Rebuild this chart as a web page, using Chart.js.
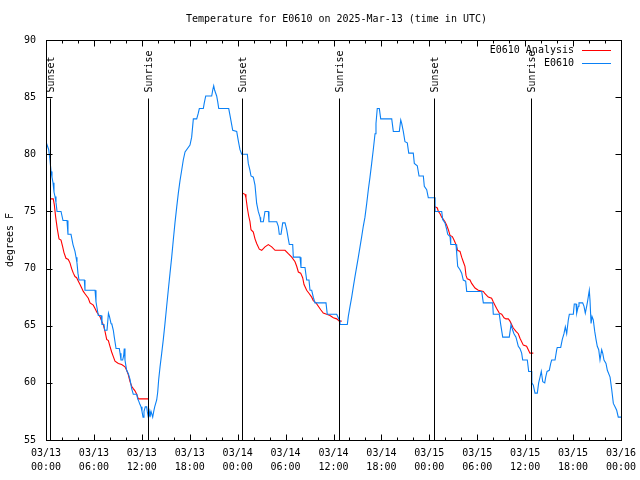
<!DOCTYPE html>
<html><head><meta charset="utf-8">
<script src="https://cdn.jsdelivr.net/npm/chart.js@4"></script>
<style>html,body{margin:0;padding:0;background:#fff}canvas{display:block}</style>
</head><body>
<canvas id="c" width="640" height="480"></canvas>
<script>
const titleText = 'Temperature for E0610 on 2025-Mar-13 (time in UTC)';
const yAxisTitle = 'degrees F';
const seriesNames = ['E0610 Analysis', 'E0610'];
const seriesColors = ['#ff0000', '#0a80f5'];
const xTickDates = ['03/13','03/13','03/13','03/13','03/14','03/14','03/14','03/14','03/15','03/15','03/15','03/15','03/16'];
const xTickTimes = ['00:00','06:00','12:00','18:00','00:00','06:00','12:00','18:00','00:00','06:00','12:00','18:00','00:00'];
const eventHours = [0.5, 12.81, 24.5, 36.73, 48.62, 60.77];
const eventLabels = ['Sunset','Sunrise','Sunset','Sunrise','Sunset','Sunrise'];

// Analysis (hours since 03/13 00:00 UTC), null temp breaks the line
const analysisHours = [
0.59,0.91,1.04,1.21,1.41,1.63,1.88,2.09,2.25,2.5,2.79,3.0,3.21,3.42,3.63,3.84,4.05,4.26,4.47,4.67,4.88,5.3,5.51,5.92,6.14,6.35,6.55,6.76,6.97,7.17,7.39,7.6,7.81,8.01,8.22,8.43,8.64,9.06,9.48,9.89,10.1,10.31,10.52,10.73,10.93,11.14,11.36,11.56,11.77,12.81,
18,
24.63,24.92,25.04,25.21,25.38,25.54,25.67,25.96,26.17,26.38,26.71,27.01,27.42,27.84,28.26,28.68,29.93,30.34,30.77,31.18,31.39,31.6,31.89,32.14,32.31,32.64,32.97,33.27,33.47,33.81,34.1,34.4,34.72,35.14,35.56,35.98,36.4,36.73,37.03,
42,
48.71,49.0,49.13,49.34,49.55,49.75,49.96,50.17,50.38,50.59,50.88,51.09,51.34,51.55,51.84,52.05,52.25,52.46,52.59,52.75,53.09,53.3,53.72,54.13,54.76,54.97,55.38,55.8,56.0,56.22,56.43,56.76,57.06,57.35,57.6,57.89,58.1,58.51,58.85,59.14,59.35,59.77,60.18,60.39,60.6,61.02
];
const analysisTemps = [
76.1,76.1,75.6,74.5,73.5,72.6,72.5,71.9,71.4,70.9,70.8,70.5,70.0,69.6,69.3,69.2,68.9,68.6,68.3,68.0,67.8,67.4,67.0,66.8,66.5,66.2,66.0,65.8,65.4,65.1,64.5,63.8,63.7,63.2,62.7,62.3,61.9,61.7,61.6,61.4,61.1,60.7,60.1,59.7,59.5,59.3,59.0,58.6,58.6,58.6,
null,
76.6,76.5,76.2,75.3,74.6,74.1,73.4,73.2,72.6,72.2,71.7,71.6,71.9,72.1,71.9,71.6,71.6,71.3,71.0,70.6,70.2,69.7,69.6,69.2,68.6,68.1,67.8,67.5,67.2,67.0,66.7,66.4,66.1,66.0,65.9,65.7,65.6,65.4,65.4,
null,
75.4,75.3,75.0,74.8,74.5,74.3,74.1,73.8,73.4,72.9,72.8,72.5,72.1,71.6,71.5,71.0,70.6,70.2,69.4,69.1,69.0,68.7,68.3,68.1,68.0,67.8,67.5,67.4,67.1,66.8,66.5,66.1,66.0,65.7,65.6,65.6,65.4,64.8,64.5,64.3,63.9,63.3,63.2,62.9,62.6,62.6
];

// Observations
const obsHours = [
0.05,0.34,0.5,0.63,0.75,0.88,1.0,1.13,1.25,1.38,1.88,2.13,2.63,2.75,3.13,3.38,3.63,3.76,3.88,4.0,4.13,4.8,4.88,6.14,6.26,6.35,6.55,6.89,7.01,7.26,7.35,7.64,7.82,7.95,8.14,8.26,8.43,8.55,8.64,8.77,9.18,9.27,9.39,9.6,9.73,9.8,9.89,9.98,10.1,10.31,10.52,10.73,10.93,11.36,11.48,11.61,11.77,11.9,12.02,12.15,12.27,12.43,12.61,12.68,12.81,12.93,13.02,13.15,13.36,13.49,13.61,13.86,13.99,14.11,14.28,14.49,14.69,14.9,15.11,15.31,15.53,15.74,15.94,16.15,16.37,16.57,16.78,16.99,17.19,17.41,17.53,18.03,18.24,18.45,18.87,19.07,19.2,19.7,19.82,20.0,20.75,20.87,21.0,21.12,21.37,21.5,21.63,22.88,23.04,23.17,23.38,23.88,24.0,24.13,24.29,24.51,25.21,25.33,25.54,25.67,25.96,26.17,26.38,26.58,26.8,26.88,27.21,27.42,27.84,27.92,28.89,29.09,29.21,29.43,29.64,29.93,30.14,30.34,30.47,30.89,30.97,31.81,31.93,32.43,32.64,32.93,33.06,33.27,33.47,33.68,35.06,35.22,36.4,36.73,36.81,37.73,37.85,38.07,38.28,38.48,38.69,38.91,39.11,39.32,39.53,39.73,39.94,40.16,40.36,40.57,40.78,40.98,41.2,41.32,41.48,41.74,41.91,43.29,43.49,44.24,44.42,44.54,44.74,44.95,45.24,45.42,45.99,46.12,46.49,46.71,47.25,47.37,47.67,47.87,48.71,48.72,49.55,49.67,49.96,50.18,50.3,50.59,50.68,51.34,51.43,51.55,51.84,52.05,52.25,52.55,52.68,54.56,54.76,55.93,56.01,56.76,56.94,57.19,58.01,58.23,58.44,58.6,58.85,59.14,59.35,59.56,59.69,60.27,60.44,60.82,60.83,61.02,61.23,61.52,61.69,61.86,62.02,62.2,62.45,62.57,62.74,63.02,63.2,63.32,63.74,63.95,64.02,64.45,64.65,64.86,65.03,65.2,65.4,65.53,66.03,66.15,66.37,66.45,66.65,66.74,67.2,67.37,67.53,67.7,67.83,67.96,68.03,68.12,68.25,68.37,68.53,68.71,68.87,69.03,69.21,69.37,69.58,69.71,69.87,70.12,70.29,70.63,70.84,71.04,71.25,71.46,71.66,72.0
];
const obsTemps = [
81.0,80.4,79.5,78.5,78.0,77.5,76.7,76.3,75.8,75.0,75.0,74.2,74.2,73.0,73.0,72.1,71.5,71.0,70.5,69.6,69.0,69.0,68.1,68.1,67.1,66.7,65.9,65.9,65.1,65.1,64.6,64.6,66.1,65.8,65.2,65.1,64.6,64.0,63.6,63.0,63.0,62.6,62.0,62.0,62.4,63.0,62.0,61.6,61.1,60.8,60.3,59.5,59.0,59.0,58.6,58.4,58.1,57.9,57.5,57.0,57.5,57.9,57.9,57.5,57.0,57.5,57.0,57.5,57.0,57.5,57.9,58.5,59.2,60.3,61.4,62.6,63.8,65.2,66.7,68.1,69.6,71.0,72.5,74.0,75.4,76.6,77.7,78.6,79.5,80.2,80.2,80.8,81.5,83.1,83.1,83.6,84.0,84.0,84.5,85.1,85.1,85.6,86.0,85.6,85.1,84.6,84.0,84.0,83.4,82.9,82.1,82.0,81.5,81.0,80.4,80.0,80.0,79.2,78.6,78.1,78.0,77.3,75.7,75.0,74.5,74.1,74.1,75.0,75.0,74.1,74.1,73.7,73.0,73.0,74.0,74.0,73.4,72.6,72.1,72.1,71.0,71.0,70.1,70.1,69.0,69.0,68.1,68.1,67.5,67.0,67.0,66.0,66.0,65.5,65.1,65.1,65.8,66.7,67.5,68.4,69.3,70.2,71.0,71.9,72.8,73.7,74.5,75.7,76.9,78.0,79.2,80.4,81.8,82.7,84.0,84.0,83.1,83.1,82.0,82.0,83.0,82.7,82.0,81.1,81.0,80.1,80.1,79.2,79.0,78.1,78.1,77.2,76.9,76.2,76.2,75.0,75.0,74.3,74.0,73.4,73.0,72.8,72.1,72.1,71.3,70.2,69.9,69.6,69.0,68.9,68.0,68.0,67.0,67.0,66.0,66.0,65.1,64.0,64.0,65.1,64.6,64.3,64.0,63.2,63.0,62.6,62.0,62.0,61.0,61.0,60.0,59.8,59.1,59.1,60.0,60.5,61.0,60.1,60.0,60.5,61.0,61.1,61.7,62.0,62.0,62.9,63.1,63.1,63.8,64.3,64.9,64.3,65.5,66.0,66.0,66.9,66.9,66.1,66.7,67.0,67.0,66.7,66.1,66.7,67.2,67.8,68.1,67.2,65.2,65.8,65.5,64.5,63.8,63.2,62.9,62.0,62.9,62.6,62.0,61.7,61.1,60.5,59.4,58.2,57.9,57.6,57.0,57.0
];

const FONT = '"DejaVu Sans Mono", "Liberation Mono", monospace';
const toPts = (xs, ys) => xs.map((h, i) => ({ x: h, y: ys[i] }));

const framePlugin = {
  id: 'frame',
  afterDatasetsDraw(chart) {
    const { ctx, chartArea: a, scales: { x, y } } = chart;
    const L = Math.round(a.left) + 0.5, R = Math.round(a.right) + 0.5;
    const T = Math.round(a.top) + 0.5, B = Math.round(a.bottom) + 0.5;
    ctx.save();
    ctx.strokeStyle = '#000';
    ctx.fillStyle = '#000';
    ctx.lineWidth = 1;
    ctx.font = '10px ' + FONT;
    // title, centred over the plot area
    ctx.textAlign = 'center'; ctx.textBaseline = 'middle';
    ctx.fillText(titleText, (a.left + a.right) / 2 + 3, 19);
    // event lines and labels
    eventHours.forEach((h, i) => {
      const px = Math.round(x.getPixelForValue(h)) + 0.5;
      ctx.beginPath(); ctx.moveTo(px, T + 58); ctx.lineTo(px, B); ctx.stroke();
      ctx.save();
      ctx.translate(px + 0.5, T + 52);
      ctx.rotate(-Math.PI / 2);
      ctx.textAlign = 'left'; ctx.textBaseline = 'middle';
      ctx.fillText(eventLabels[i], 0, 0);
      ctx.restore();
    });
    // border
    ctx.strokeRect(L, T, R - L, B - T);
    // x ticks (major every 6h, minor every 2h), inward, top and bottom
    ctx.beginPath();
    for (let h = 0; h <= 72; h += 2) {
      const px = Math.round(x.getPixelForValue(h)) + 0.5;
      const len = (h % 6 === 0) ? 6 : 3;
      ctx.moveTo(px, B); ctx.lineTo(px, B - len);
      ctx.moveTo(px, T); ctx.lineTo(px, T + len);
    }
    // y ticks, inward, left and right
    for (let v = 55; v <= 90; v += 5) {
      const py = Math.round(y.getPixelForValue(v)) + 0.5;
      ctx.moveTo(L, py); ctx.lineTo(L + 6, py);
      ctx.moveTo(R, py); ctx.lineTo(R - 6, py);
    }
    ctx.stroke();
    // legend
    ctx.textAlign = 'right'; ctx.textBaseline = 'middle';
    seriesNames.forEach((n, i) => {
      const ly = T + 9.5 + i * 13;
      ctx.fillStyle = '#000';
      ctx.fillText(n, 574, ly);
      ctx.strokeStyle = seriesColors[i];
      ctx.beginPath(); ctx.moveTo(582, Math.round(ly) + 0.5); ctx.lineTo(611, Math.round(ly) + 0.5); ctx.stroke();
    });
    ctx.restore();
  }
};

new Chart(document.getElementById('c'), {
  type: 'line',
  data: {
    datasets: [
      { label: seriesNames[1], data: toPts(obsHours, obsTemps), borderColor: seriesColors[1], borderWidth: 1.1, pointRadius: 0, tension: 0, spanGaps: false },
      { label: seriesNames[0], data: toPts(analysisHours, analysisTemps), borderColor: seriesColors[0], borderWidth: 1.1, pointRadius: 0, tension: 0, spanGaps: false }
    ]
  },
  options: {
    responsive: false,
    animation: false,
    devicePixelRatio: 1,
    layout: { padding: { left: 0, right: 19, top: 40, bottom: 0 } },
    plugins: {
      legend: { display: false },
      tooltip: { enabled: false },
      title: { display: false }
    },
    scales: {
      x: {
        type: 'linear', min: 0, max: 72,
        afterFit: s => { s.height = 40; s.paddingLeft = 0; s.paddingRight = 0; },
        grid: { display: false, drawTicks: false },
        border: { display: false },
        ticks: {
          stepSize: 6, autoSkip: false, maxRotation: 0, padding: 6, color: '#000',
          font: { family: FONT, size: 10, lineHeight: 1.45 },
          callback: v => { const i = Math.round(v / 6); return [xTickDates[i], xTickTimes[i]]; }
        }
      },
      y: {
        min: 55, max: 90,
        afterFit: s => { s.width = 46; s.paddingTop = 0; s.paddingBottom = 0; },
        grid: { display: false, drawTicks: false },
        border: { display: false },
        ticks: { stepSize: 5, padding: 10, color: '#000', font: { family: FONT, size: 10 } },
        title: { display: true, text: yAxisTitle, color: '#000', font: { family: FONT, size: 10 }, padding: { top: 4, bottom: 0 } }
      }
    }
  },
  plugins: [framePlugin]
});
</script>
</body></html>
